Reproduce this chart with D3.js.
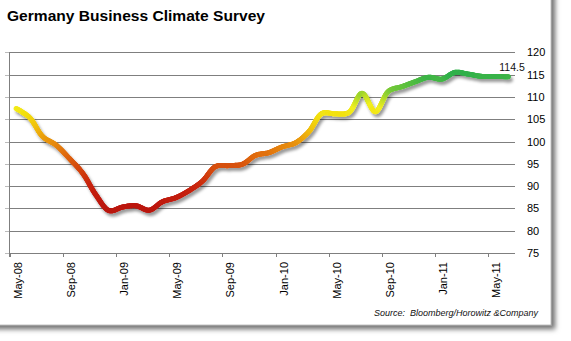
<!DOCTYPE html>
<html>
<head>
<meta charset="utf-8">
<script src="https://cdn.jsdelivr.net/npm/d3@7"></script>
<style>
  body { margin: 0; background: #fff; }
  svg { display: block; }
  text { font-family: "Liberation Sans", Arial, sans-serif; }
</style>
</head>
<body>
<div id="chart"></div>
<script>
// monthly values, May-08 .. Jun-11
var months = ["May-08","Jun-08","Jul-08","Aug-08","Sep-08","Oct-08","Nov-08","Dec-08",
              "Jan-09","Feb-09","Mar-09","Apr-09","May-09","Jun-09","Jul-09","Aug-09",
              "Sep-09","Oct-09","Nov-09","Dec-09","Jan-10","Feb-10","Mar-10","Apr-10",
              "May-10","Jun-10","Jul-10","Aug-10","Sep-10","Oct-10","Nov-10","Dec-10",
              "Jan-11","Feb-11","Mar-11","Apr-11","May-11","Jun-11"];
var values = [107.4, 105.4, 101.1, 99.2, 96.2, 92.9, 88.0, 84.5,
              85.3, 85.6, 84.6, 86.5, 87.4, 89.0, 91.1, 94.4,
              94.6, 94.9, 96.9, 97.5, 98.8, 99.7, 102.2, 106.3,
              106.2, 106.5, 110.8, 106.7, 111.3, 112.3, 113.4, 114.4,
              114.0, 115.5, 115.1, 114.6, 114.6, 114.5];
var tickMonths = ["May-08","Sep-08","Jan-09","May-09","Sep-09","Jan-10","May-10","Sep-10","Jan-11","May-11"];
var yTicks = [75, 80, 85, 90, 95, 100, 105, 110, 115, 120];
var colorStops = [84, 90, 94, 97, 100, 103, 106, 108, 110, 112, 115];
var colorRange = ["#b81410","#c82410","#d44a10","#e06c10","#e89410","#f0c010",
                  "#f2e010","#f2f020","#b8dc28","#6cc63a","#30b04a"];

var W = 571, H = 341;
var plotL = 9.5, plotR = 515, plotT = 52.3, plotB = 253;

var svg = d3.select("#chart").append("svg")
    .attr("width", W).attr("height", H);

var defs = svg.append("defs");
var panelShadow = defs.append("filter").attr("id", "panelShadow")
    .attr("x", "-5%").attr("y", "-5%").attr("width", "115%").attr("height", "115%");
panelShadow.append("feDropShadow")
    .attr("dx", 4).attr("dy", 4).attr("stdDeviation", 2.5)
    .attr("flood-color", "#000").attr("flood-opacity", 0.55);

var lineShadow = defs.append("filter").attr("id", "lineShadow")
    .attr("x", "-10%").attr("y", "-10%").attr("width", "120%").attr("height", "130%");
lineShadow.append("feDropShadow")
    .attr("dx", 2).attr("dy", 3).attr("stdDeviation", 1.8)
    .attr("flood-color", "#000").attr("flood-opacity", 0.4);

// white panel with shadow
svg.append("rect")
    .attr("x", -10).attr("y", -10)
    .attr("width", 561).attr("height", 335)
    .attr("fill", "#fff")
    .attr("stroke", "#9a9a9a").attr("stroke-width", 0.6)
    .attr("filter", "url(#panelShadow)");

svg.append("text")
    .attr("x", 7).attr("y", 21)
    .attr("font-size", 15).attr("font-weight", "bold")
    .attr("fill", "#000")
    .attr("textLength", 258).attr("lengthAdjust", "spacingAndGlyphs")
    .text("Germany Business Climate Survey");

var x = d3.scaleBand().domain(months).range([plotL, plotR]).padding(0);
var y = d3.scaleLinear().domain([75, 120]).range([plotB, plotT]);
var color = d3.scaleLinear().domain(colorStops).range(colorRange).clamp(true);

// grid lines
svg.append("g").selectAll("line")
    .data(yTicks).enter().append("line")
    .attr("x1", plotL).attr("x2", plotR)
    .attr("y1", function(d) { return Math.round(y(d)) + 0.5; })
    .attr("y2", function(d) { return Math.round(y(d)) + 0.5; })
    .attr("stroke", "#7f7f7f").attr("stroke-width", 1);

// small left ticks
svg.append("g").selectAll("line")
    .data(yTicks).enter().append("line")
    .attr("x1", 5).attr("x2", plotL)
    .attr("y1", function(d) { return Math.round(y(d)) + 0.5; })
    .attr("y2", function(d) { return Math.round(y(d)) + 0.5; })
    .attr("stroke", "#bbb");

// left axis line
svg.append("line")
    .attr("x1", plotL).attr("x2", plotL)
    .attr("y1", Math.round(y(120))).attr("y2", plotB + 4)
    .attr("stroke", "#7f7f7f");

// y labels on the right
svg.append("g").selectAll("text")
    .data(yTicks).enter().append("text")
    .attr("x", 527).attr("y", function(d) { return y(d) + 4; })
    .attr("font-size", 11).attr("fill", "#000")
    .text(function(d) { return d; });

// x ticks + rotated labels
var xt = svg.append("g").selectAll("g")
    .data(tickMonths).enter().append("g")
    .attr("transform", function(d) { return "translate(" + (Math.round(x(d)) + 0.5) + "," + plotB + ")"; });
xt.append("line").attr("y1", 0).attr("y2", 4).attr("stroke", "#7f7f7f");
xt.append("text")
    .attr("transform", "translate(11,9) rotate(-90)")
    .attr("text-anchor", "end")
    .attr("font-size", 11).attr("fill", "#000")
    .text(function(d) { return d; });

// smooth line, colored by value
var pts = months.map(function(m, i) { return [x(m) + x.bandwidth() / 2, y(values[i])]; });
var path = d3.line().curve(d3.curveCatmullRom.alpha(0.5))(pts);
var tmp = svg.append("path").attr("d", path).attr("fill", "none").attr("stroke", "none");
var node = tmp.node();
var len = node.getTotalLength();
var samples = [];
for (var l = 0; l <= len; l += 1) samples.push(node.getPointAtLength(l));
samples.push(node.getPointAtLength(len));
tmp.remove();

var lineG = svg.append("g").attr("filter", "url(#lineShadow)");
for (var i = 0; i < samples.length - 1; i++) {
  var a = samples[i], b = samples[i + 1];
  lineG.append("line")
    .attr("x1", a.x).attr("y1", a.y).attr("x2", b.x).attr("y2", b.y)
    .attr("stroke", color(y.invert((a.y + b.y) / 2)))
    .attr("stroke-width", 5)
    .attr("stroke-linecap", "round");
}

// last value label
svg.append("text")
    .attr("x", 512).attr("y", 71)
    .attr("text-anchor", "middle")
    .attr("font-size", 10.5).attr("fill", "#111")
    .text(values[values.length - 1]);

svg.append("text")
    .attr("x", 538).attr("y", 316)
    .attr("text-anchor", "end")
    .attr("font-size", 9).attr("font-style", "italic").attr("fill", "#111")
    .style("white-space", "pre")
    .text("Source:  Bloomberg/Horowitz &Company");
</script>
</body>
</html>
